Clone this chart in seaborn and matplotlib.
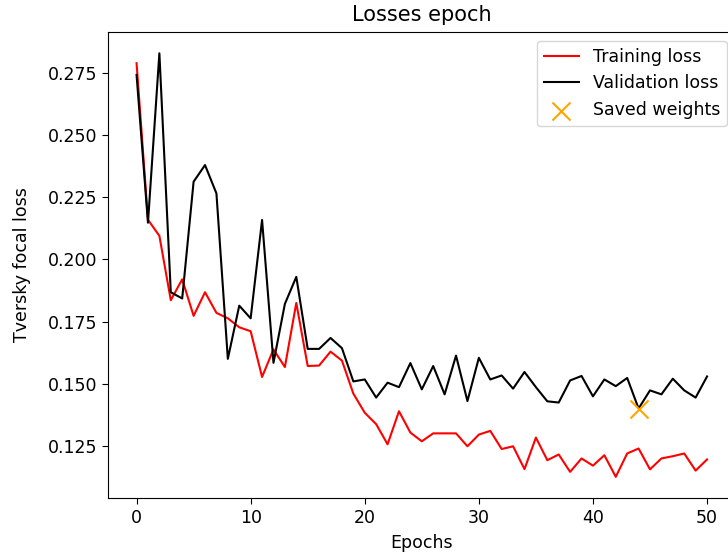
import numpy as np
import matplotlib
matplotlib.use("Agg")
import matplotlib.pyplot as plt
import seaborn as sns

epochs = list(range(51))

train_loss = [
    0.279, 0.216, 0.2095, 0.1836, 0.192, 0.1773, 0.1868, 0.1785, 0.1763, 0.1727,
    0.1711, 0.1527, 0.1638, 0.1567, 0.1825, 0.1571, 0.1573, 0.1629, 0.1593, 0.146,
    0.1383, 0.1337, 0.1256, 0.1389, 0.1303, 0.1268, 0.130, 0.130, 0.130, 0.1248,
    0.1295, 0.131, 0.1237, 0.1248, 0.1156, 0.1283, 0.1192, 0.1215, 0.1145, 0.1199,
    0.117, 0.1212, 0.1125, 0.1219, 0.1239, 0.1155, 0.1199, 0.1208, 0.1219, 0.115,
    0.1195,
]

val_loss = [
    0.2743, 0.2148, 0.283, 0.1868, 0.1843, 0.2313, 0.238, 0.2266, 0.160, 0.1814,
    0.1763, 0.2159, 0.1584, 0.1821, 0.193, 0.164, 0.164, 0.1684, 0.1643, 0.1509,
    0.1517, 0.1444, 0.1504, 0.1486, 0.1583, 0.1477, 0.1571, 0.1457, 0.1613, 0.143,
    0.1604, 0.1517, 0.1533, 0.148, 0.1547, 0.1486, 0.1429, 0.1424, 0.1513, 0.1531,
    0.1449, 0.1517, 0.149, 0.1523, 0.140, 0.1473, 0.1457, 0.152, 0.1473, 0.1444,
    0.1529,
]

saved_epoch = [44]
saved_loss = [val_loss[44]]

plt.rcParams.update({
    "font.family": ["DejaVu Sans"],
    "font.size": 12.5,
    "axes.titlesize": 15,
    "axes.labelsize": 12.5,
    "xtick.labelsize": 12.5,
    "ytick.labelsize": 12.5,
    "legend.fontsize": 12.5,
    "xtick.major.size": 4.5,
    "ytick.major.size": 4.5,
})

fig = plt.figure(figsize=(7.28, 5.56), dpi=100)
ax = fig.add_axes([0.1484, 0.1043, 0.862, 0.838])

sns.lineplot(x=epochs, y=train_loss, color="red", linewidth=1.5,
             label="Training loss", ax=ax)
sns.lineplot(x=epochs, y=val_loss, color="black", linewidth=1.5,
             label="Validation loss", ax=ax)
sns.scatterplot(x=saved_epoch, y=saved_loss, marker="x", s=169,
                color="orange", linewidth=1.5, label="Saved weights", ax=ax,
                zorder=3)

ax.set_xlim(-2.5, 52.5)
ax.set_xticks([0, 10, 20, 30, 40, 50])
ax.set_yticks([0.125, 0.150, 0.175, 0.200, 0.225, 0.250, 0.275])
ax.set_yticklabels([f"{t:.3f}" for t in ax.get_yticks()])
ax.set_title("Losses epoch", pad=8)
ax.set_xlabel("Epochs", labelpad=5)
ax.set_ylabel("Tversky focal loss", labelpad=12)
ax.legend(loc="upper right")

fig.savefig("out.png", dpi=100)
